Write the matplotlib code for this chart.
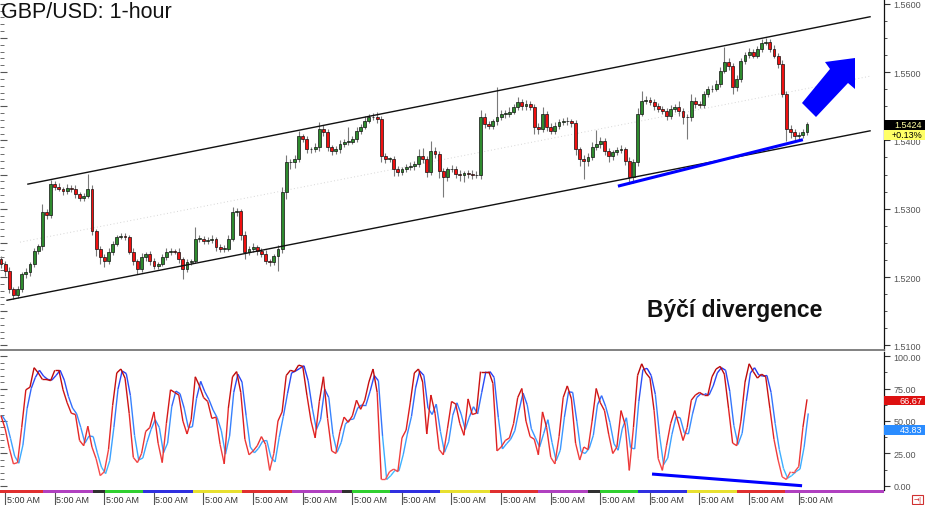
import numpy as np
import matplotlib
matplotlib.use("Agg")
import matplotlib.pyplot as plt
from matplotlib.patches import Rectangle, Polygon
from matplotlib.collections import LineCollection
from matplotlib.colors import LinearSegmentedColormap
from matplotlib.ticker import MultipleLocator, FuncFormatter

plt.rcParams['font.family'] = ['Liberation Sans', 'DejaVu Sans']

# ---------------- data ----------------
pair_title = "GBP/USD: 1-hour"
annotation_text = "Býčí divergence"
bar_hours = 2
first_open_pips = 15226
close_pips = [
    15219, 15209, 15182, 15174, 15182, 15204, 15207, 15219, 15238, 15245,
    15295, 15291, 15336, 15332, 15329, 15326, 15330, 15329, 15322, 15316,
    15319, 15329, 15267, 15241, 15229, 15223, 15237, 15248, 15259, 15260,
    15259, 15237, 15223, 15212, 15229, 15234, 15223, 15216, 15219, 15229,
    15237, 15238, 15237, 15226, 15212, 15222, 15223, 15256, 15256, 15253,
    15254, 15256, 15244, 15241, 15241, 15256, 15295, 15297, 15262, 15237,
    15241, 15244, 15238, 15234, 15223, 15222, 15231, 15241, 15324, 15368,
    15368, 15373, 15406, 15402, 15387, 15387, 15390, 15417, 15412, 15390,
    15384, 15387, 15395, 15398, 15398, 15402, 15414, 15420, 15428, 15434,
    15434, 15431, 15377, 15373, 15373, 15358, 15354, 15358, 15361, 15362,
    15365, 15377, 15373, 15354, 15384, 15380, 15355, 15346, 15358, 15358,
    15351, 15349, 15352, 15351, 15349, 15349, 15434, 15424, 15421, 15428,
    15434, 15439, 15439, 15442, 15449, 15456, 15450, 15453, 15449, 15420,
    15417, 15439, 15420, 15414, 15421, 15427, 15428, 15428, 15425, 15387,
    15373, 15370, 15376, 15390, 15395, 15399, 15384, 15377, 15383, 15386,
    15387, 15370, 15346, 15368, 15439, 15458, 15459, 15456, 15450, 15446,
    15443, 15436, 15446, 15449, 15443, 15434, 15434, 15458, 15453, 15452,
    15468, 15475, 15475, 15483, 15502, 15515, 15509, 15478, 15490, 15516,
    15525, 15529, 15524, 15534, 15543, 15544, 15534, 15524, 15512, 15468,
    15417, 15412, 15406, 15408, 15412, 15424]
up_wick_pips = [
    5, 4, 6, 3, 5, 4, 6, 3, 5, 4,
    12, 5, 6, 4, 5, 3, 6, 4, 5, 3,
    4, 22, 5, 3, 4, 5, 6, 4, 3, 5,
    4, 3, 5, 4, 6, 3, 4, 5, 3, 4,
    5, 4, 3, 6, 4, 5, 3, 17, 5, 4,
    4, 5, 3, 4, 6, 5, 8, 4, 3, 5,
    4, 6, 3, 4, 5, 4, 3, 6, 8, 10,
    5, 6, 8, 4, 5, 3, 6, 10, 5, 4,
    3, 5, 6, 4, 22, 5, 6, 4, 7, 5,
    6, 8, 4, 5, 3, 4, 5, 3, 4, 6,
    5, 10, 12, 4, 15, 6, 4, 5, 3, 6,
    4, 5, 3, 4, 5, 6, 10, 6, 5, 4,
    44, 6, 5, 7, 5, 8, 5, 6, 5, 4,
    5, 10, 4, 5, 6, 4, 5, 6, 4, 5,
    4, 5, 6, 8, 20, 6, 4, 5, 3, 5,
    6, 4, 5, 5, 8, 14, 6, 5, 4, 5,
    4, 5, 6, 4, 8, 5, 4, 10, 6, 5,
    5, 4, 6, 5, 6, 22, 5, 4, 6, 5,
    4, 6, 5, 4, 5, 6, 4, 5, 4, 5,
    4, 6, 5, 4, 5, 3]
dn_wick_pips = [
    6, 8, 5, 6, 5, 4, 6, 5, 4, 5,
    5, 6, 4, 5, 3, 6, 4, 5, 6, 4,
    5, 4, 6, 10, 10, 8, 4, 5, 3, 4,
    5, 4, 6, 8, 4, 5, 6, 4, 5, 3,
    4, 5, 4, 6, 15, 5, 4, 3, 5, 4,
    5, 4, 6, 4, 5, 3, 4, 6, 8, 10,
    5, 4, 6, 5, 4, 6, 5, 22, 6, 10,
    10, 8, 5, 4, 6, 5, 4, 5, 6, 5,
    6, 4, 5, 4, 5, 3, 4, 5, 4, 3,
    4, 5, 8, 6, 5, 10, 6, 4, 5, 4,
    5, 4, 6, 8, 5, 6, 10, 29, 6, 5,
    6, 8, 10, 6, 5, 4, 5, 6, 5, 4,
    5, 4, 6, 5, 4, 5, 6, 5, 4, 10,
    8, 5, 6, 5, 4, 5, 4, 5, 6, 8,
    10, 27, 8, 5, 4, 6, 5, 8, 6, 5,
    4, 6, 10, 8, 5, 4, 5, 4, 6, 5,
    4, 6, 5, 4, 8, 10, 32, 5, 6, 5,
    4, 5, 4, 3, 5, 4, 6, 10, 6, 5,
    4, 5, 3, 4, 5, 4, 5, 4, 6, 5,
    18, 8, 7, 6, 5, 4]
stoch_k = [
    54, 44, 29, 17, 18, 45, 74, 76, 91, 87,
    82, 82, 81, 89, 89, 74, 64, 56, 55, 35,
    31, 46, 30, 21, 8, 11, 28, 62, 87, 90,
    83, 56, 22, 18, 25, 42, 45, 57, 33, 18,
    48, 74, 72, 70, 50, 40, 51, 84, 77, 68,
    65, 52, 53, 32, 17, 60, 84, 88, 72, 36,
    24, 27, 31, 38, 32, 12, 25, 50, 57, 85,
    89, 88, 93, 92, 70, 50, 37, 65, 84, 52,
    27, 25, 42, 53, 49, 54, 66, 59, 66, 80,
    90, 72, 5, 5, 11, 13, 11, 37, 43, 64,
    87, 90, 80, 40, 70, 56, 28, 24, 44, 65,
    63, 48, 39, 67, 55, 56, 88, 88, 88, 79,
    27, 30, 35, 37, 48, 68, 75, 50, 38, 36,
    24, 57, 45, 22, 17, 38, 68, 77, 67, 33,
    20, 30, 28, 50, 75, 64, 58, 40, 25, 30,
    58, 47, 12, 45, 85, 94, 87, 83, 58, 21,
    12, 31, 48, 58, 47, 35, 45, 66, 70, 72,
    70, 70, 84, 90, 92, 86, 60, 33, 31, 50,
    80, 94, 88, 83, 86, 84, 60, 36, 20, 7,
    5, 11, 11, 15, 45, 66.67]
last_price_label = "1.5424"
change_label = "+0.13%"
k_label = "66.67"
d_label = "43.83"
time_tick_hours = [2.4, 26.4, 50.4, 74.4, 98.4, 122.4, 146.4, 170.4, 194.4,
                   218.4, 242.4, 266.4, 290.4, 314.4, 338.4, 362.4, 386.4]
time_tick_labels = ["5:00 AM"] * 17
session_edges_h = [0, 20.8, 45.0, 50.8, 69.2, 93.4, 117.1, 141.3, 165.5, 170.3,
                   188.7, 212.9, 237.1, 260.3, 284.5, 290.3, 308.7, 332.4, 356.6,
                   379.8, 427.7]
session_colors = ['#e03030', '#b040c0', '#303030', '#30d030', '#3030e0', '#e8e030',
                  '#e03030', '#b040c0', '#303030', '#30d030', '#3030e0', '#e8e030',
                  '#e03030', '#b040c0', '#303030', '#30d030', '#3030e0', '#e8e030',
                  '#e03030', '#b040c0']
channel_upper_h, channel_upper_p = [13.5, 421.0], [1.5336, 1.5581]
channel_lower_h, channel_lower_p = [3.4, 421.0], [1.5166, 1.5414]
channel_mid_h, channel_mid_p = [9.7, 421.0], [1.5251, 1.5494]
price_div_h, price_div_p = [299.0, 388.5], [1.5333, 1.5401]
stoch_div_h, stoch_div_v = [315.5, 388.1], [9.2, 0.2]

# ---------------- layout ----------------
W, H = 925, 506
fig = plt.figure(figsize=(W / 100, H / 100), dpi=100)


def fx(px):
    return px / W


def fy(py):
    return 1 - py / H


RIGHT = 884
XMAX = RIGHT / (49.6 / 24)
ax = fig.add_axes([0, fy(351), fx(RIGHT), 351 / H])
axo = fig.add_axes([0, fy(491), fx(RIGHT), (491 - 353) / H])
axt = fig.add_axes([0, 0, fx(RIGHT), 15 / H])

# ---------------- price candles ----------------
c = np.array(close_pips) / 10000.0
o = np.r_[first_open_pips / 10000.0, c[:-1]]
hi = np.maximum(o, c) + np.array(up_wick_pips) / 10000.0
lo = np.minimum(o, c) - np.array(dn_wick_pips) / 10000.0
n = len(c)
t = np.arange(n) * bar_hours + 0.5
is_up = c >= o

ax.vlines(t, lo, hi, color='#7a7a7a', lw=0.8, zorder=2)
body = np.maximum(np.abs(c - o), 0.00008)
ax.bar(t, body, bottom=np.minimum(o, c), width=1.4,
       color=np.where(is_up, '#2e8b2e', '#f01010'),
       edgecolor='#111111', linewidth=0.5, zorder=3)

ax.plot(channel_upper_h, channel_upper_p, color='#111111', lw=1.0, zorder=4)
ax.plot(channel_lower_h, channel_lower_p, color='#111111', lw=1.0, zorder=4)
ax.plot(channel_mid_h, channel_mid_p, color='#d5d5d5', lw=0.7, ls=(0, (1, 2.5)), zorder=1)
ax.plot(price_div_h, price_div_p, color='#0000ff', lw=2.2, zorder=5, solid_capstyle='butt')

ax.set_xlim(0, XMAX)
ax.set_ylim(1.5607 - 351 * 0.0001464, 1.5607)
ax.set_xticks([])
ax.yaxis.tick_right()
ax.yaxis.set_major_locator(MultipleLocator(0.01))
ax.yaxis.set_minor_locator(MultipleLocator(0.0025))
ax.yaxis.set_major_formatter(FuncFormatter(lambda v, p: f"{v:.4f}"))
ax.tick_params(axis='y', which='major', direction='out', length=4, width=0.8,
               labelsize=6.5, labelcolor='#555555', color='#333333', pad=3)
ax.tick_params(axis='y', which='minor', direction='out', length=2, width=0.6, color='#333333')
for s in ['top', 'left']:
    ax.spines[s].set_visible(False)
ax.spines['right'].set_color('#111111')
ax.spines['right'].set_linewidth(0.9)
ax.spines['bottom'].set_color('#777777')
ax.spines['bottom'].set_linewidth(1.3)

sec = ax.secondary_yaxis('left')
sec.yaxis.set_major_locator(MultipleLocator(0.005))
sec.yaxis.set_minor_locator(MultipleLocator(0.001))
sec.tick_params(which='both', direction='in', labelleft=False, color='#555555')
sec.tick_params(which='major', length=5, width=0.8)
sec.tick_params(which='minor', length=3, width=0.6)
sec.spines['left'].set_visible(False)

# ---------------- stochastic ----------------
k = np.array(stoch_k, dtype=float)
d = np.array([k[max(0, i - 1):i + 1].mean() for i in range(n)])

cmap_d = LinearSegmentedColormap.from_list('d', ['#40c8ff', '#3a8cff', '#2020f0'])
cmap_k = LinearSegmentedColormap.from_list('k', ['#ff5a5a', '#e02020', '#b00000'])


def grad_line(axis, x, y, cmap, lw, z):
    pts = np.column_stack([x, y]).reshape(-1, 1, 2)
    segs = np.concatenate([pts[:-1], pts[1:]], axis=1)
    mid = (y[:-1] + y[1:]) / 2.0
    lc = LineCollection(segs, colors=cmap(np.clip(mid / 100.0, 0, 1)), linewidths=lw, zorder=z)
    axis.add_collection(lc)


grad_line(axo, t + 0.6, d, cmap_d, 1.0, 2)
grad_line(axo, t, k, cmap_k, 1.0, 3)
axo.plot(stoch_div_h, stoch_div_v, color='#0000ff', lw=2.2, zorder=5, solid_capstyle='butt')

axo.set_xlim(0, XMAX)
axo.set_ylim(-3.08, 103.08)
axo.set_xticks([])
axo.yaxis.tick_right()
axo.yaxis.set_major_locator(MultipleLocator(25))
axo.yaxis.set_minor_locator(MultipleLocator(12.5))
axo.yaxis.set_major_formatter(FuncFormatter(lambda v, p: f"{v:.2f}"))
axo.tick_params(axis='y', which='major', direction='out', length=4, width=0.8,
                labelsize=6.5, labelcolor='#555555', color='#333333', pad=3)
axo.tick_params(axis='y', which='minor', direction='out', length=2, width=0.6, color='#333333')
for s in ['top', 'left', 'bottom']:
    axo.spines[s].set_visible(False)
axo.spines['right'].set_color('#111111')
axo.spines['right'].set_linewidth(0.9)

seco = axo.secondary_yaxis('left')
seco.yaxis.set_major_locator(MultipleLocator(25))
seco.yaxis.set_minor_locator(MultipleLocator(5))
seco.tick_params(which='both', direction='in', labelleft=False, color='#555555')
seco.tick_params(which='major', length=5, width=0.8)
seco.tick_params(which='minor', length=3, width=0.6)
seco.spines['left'].set_visible(False)

# ---------------- time strip ----------------
axt.set_xlim(0, XMAX)
axt.set_ylim(0, 15)
for i, col in enumerate(session_colors):
    axt.fill_between([session_edges_h[i], session_edges_h[i + 1]], 12, 15, color=col, lw=0)
for h, lab in zip(time_tick_hours, time_tick_labels):
    axt.plot([h, h], [0, 12], color='#555555', lw=0.8)
    axt.text(h + 0.8, 5.5, lab, fontsize=6.5, va='center', ha='left', color='#333333')
axt.axis('off')

# ---------------- annotations ----------------
arrow_px = [(802, 104), (830, 70), (825, 63), (855, 59), (855, 90), (848, 84), (816, 118)]
fig.add_artist(Polygon([(fx(x), fy(y)) for x, y in arrow_px], closed=True,
                       transform=fig.transFigure, fc='#0000ff', ec='none'))

fig.text(fx(1), fy(12), pair_title, fontsize=15.5, va='center', ha='left', color='#111111')
fig.text(fx(647), fy(311), annotation_text, fontsize=16.5, fontweight='bold',
         va='center', ha='left', color='#111111')


def label_box(y0, y1, fc, txt, tc):
    fig.add_artist(Rectangle((fx(884), fy(y1)), fx(41), (y1 - y0) / H,
                             transform=fig.transFigure, fc=fc, ec='none', zorder=10))
    fig.text(fx(922), fy((y0 + y1) / 2), txt, fontsize=6.5, color=tc,
             ha='right', va='center', zorder=11)


label_box(120.5, 130.8, '#000000', last_price_label, '#ffffa0')
label_box(130.8, 140.8, '#ffff66', change_label, '#000000')
label_box(396.5, 406.0, '#dd1010', k_label, '#ffffff')
label_box(426.0, 435.8, '#2a8cff', d_label, '#ffffff')

# small icon bottom right
fig.add_artist(Rectangle((fx(912), fy(505)), fx(11), 9 / H, transform=fig.transFigure,
                         fc='white', ec='#d03030', lw=0.8))
fig.text(fx(917.5), fy(500.5), '→|', fontsize=5, color='#d03030', ha='center',
         va='center', family=['DejaVu Sans'])

fig.savefig('out.png', dpi=100)
